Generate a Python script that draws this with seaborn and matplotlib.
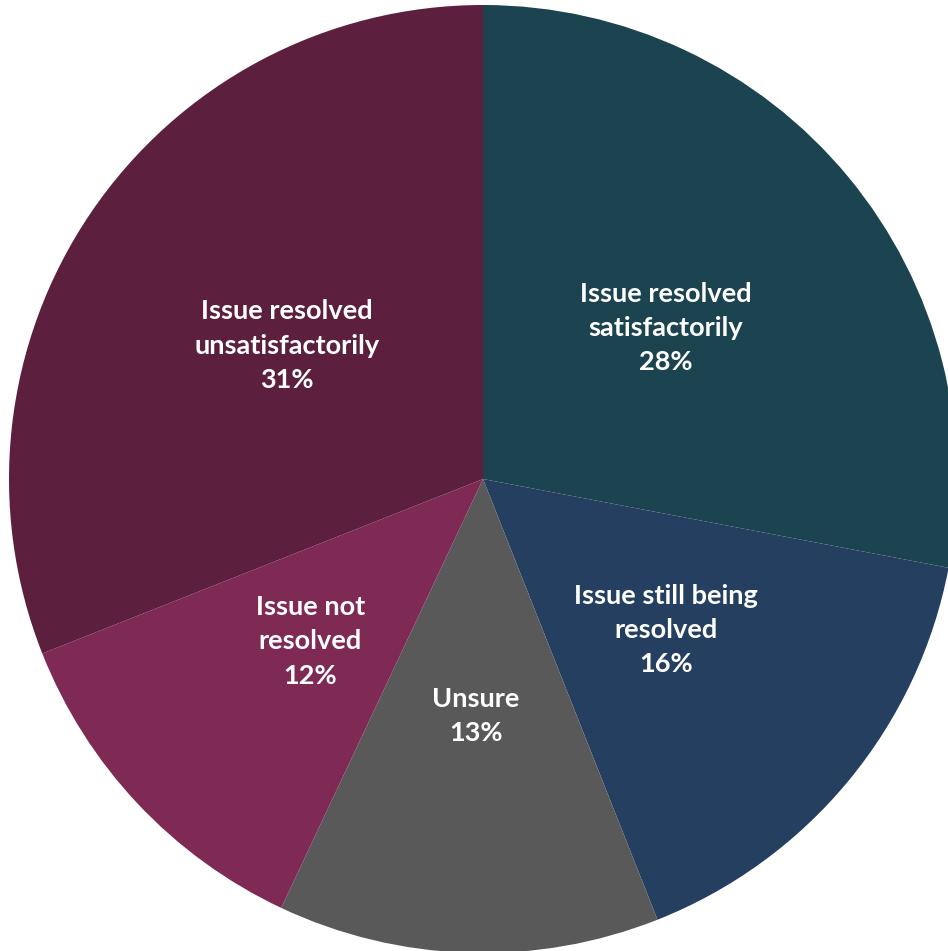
import matplotlib
matplotlib.use("Agg")
import matplotlib.pyplot as plt
import seaborn as sns

# Survey outcome shares (percent), clockwise from 12 o'clock
categories = [
    "Issue resolved\nsatisfactorily",
    "Issue still being\nresolved",
    "Unsure",
    "Issue not\nresolved",
    "Issue resolved\nunsatisfactorily",
]
shares = [28, 16, 13, 12, 31]
colors = ["#1C4450", "#253F60", "#595959", "#7F2A55", "#5C1F3D"]

sns.set_theme(style="white")
plt.rcParams["font.family"] = ["Lato", "DejaVu Sans"]

W, H, DPI = 948, 951, 100
fig = plt.figure(figsize=(W / DPI, H / DPI), dpi=DPI)
cx, cy, R = 483, 479, 474
ax = fig.add_axes([(cx - R) / W, (H - cy - R) / H, 2 * R / W, 2 * R / H])

labels = [f"{c}\n{v}%" for c, v in zip(categories, shares)]
wedges, texts = ax.pie(
    shares,
    labels=labels,
    colors=colors,
    startangle=90,
    counterclock=False,
    radius=1.0,
    labeldistance=0.5,
    wedgeprops=dict(linewidth=0),
    textprops=dict(color="white", fontsize=19.5, fontweight="bold",
                   ha="center", va="center", linespacing=1.52),
)
for t in texts:
    t.set_horizontalalignment("center")
    t.set_multialignment("center")
ax.set_xlim(-1, 1)
ax.set_ylim(-1, 1)
ax.set_aspect("equal")
ax.axis("off")

fig.savefig("out.png", dpi=DPI)
